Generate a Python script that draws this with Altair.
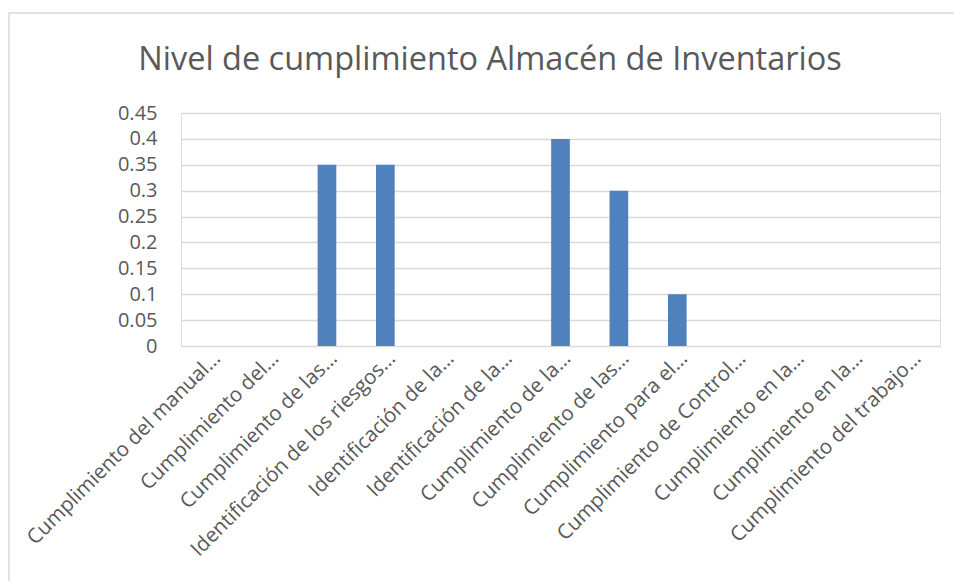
import json
import altair as alt
import pandas as pd

categories = [
    "Cumplimiento del manual…",
    "Cumplimiento del…",
    "Cumplimiento de las…",
    "Identificación de los riesgos…",
    "Identificación de la…",
    "Identificación de la…",
    "Cumplimiento de la…",
    "Cumplimiento de las…",
    "Cumplimiento para el…",
    "Cumplimiento de Control…",
    "Cumplimiento en la…",
    "Cumplimiento en la…",
    "Cumplimiento del trabajo…",
]
values = [0, 0, 0.35, 0.35, 0, 0, 0.4, 0.3, 0.1, 0, 0, 0, 0]
y_ticks = [0, 0.05, 0.1, 0.15, 0.2, 0.25, 0.3, 0.35, 0.4, 0.45]
title_text = "Nivel de cumplimiento Almacén de Inventarios"

df = pd.DataFrame({"idx": list(range(len(categories))), "valor": values})
label_expr = json.dumps(categories, ensure_ascii=False) + "[datum.value]"

FONT = "Open Sans"
TXT = "#595959"

bars = alt.Chart(df).mark_bar(color="#4F81BD").encode(
    x=alt.X("idx:O", title=None, sort=None,
            scale=alt.Scale(paddingInner=0.68, paddingOuter=0.34),
            axis=alt.Axis(labelExpr=label_expr, labelAngle=-45, labelFontSize=20.5,
                          labelColor=TXT, labelFont=FONT, domain=False, ticks=False,
                          labelPadding=9, labelOffset=7, labelLimit=400,
                          labelAlign="right", labelBaseline="middle")),
    y=alt.Y("valor:Q", title=None,
            scale=alt.Scale(domain=[0, 0.45], nice=False, zero=True),
            axis=alt.Axis(values=y_ticks, format=".2~f", labelFontSize=20, labelColor=TXT,
                          labelFont=FONT, domain=False, ticks=False, labelPadding=24,
                          gridColor="#d9d9d9", gridWidth=1.3)),
)

one = alt.Data(values=[{"t": title_text}])

border = alt.Chart(one).mark_rect(
    fill=None, stroke="#d9d9d9", strokeWidth=1.5
).encode(
    x=alt.value(-172), x2=alt.value(783), y=alt.value(-100), y2=alt.value(478)
)

title = alt.Chart(one).mark_text(
    font=FONT, fontSize=32.5, color=TXT, align="center", baseline="alphabetic"
).encode(text="t:N", x=alt.value(309), y=alt.value(-43))

chart = alt.layer(border, title, bars).properties(
    width=759,
    height=233,
    autosize=alt.AutoSizeParams(type="none"),
    padding={"left": 181, "top": 113, "right": 14, "bottom": 235},
).configure_view(stroke=None).configure(background="white")

chart.save("out.html", embed_options={"renderer": "svg", "actions": False})
